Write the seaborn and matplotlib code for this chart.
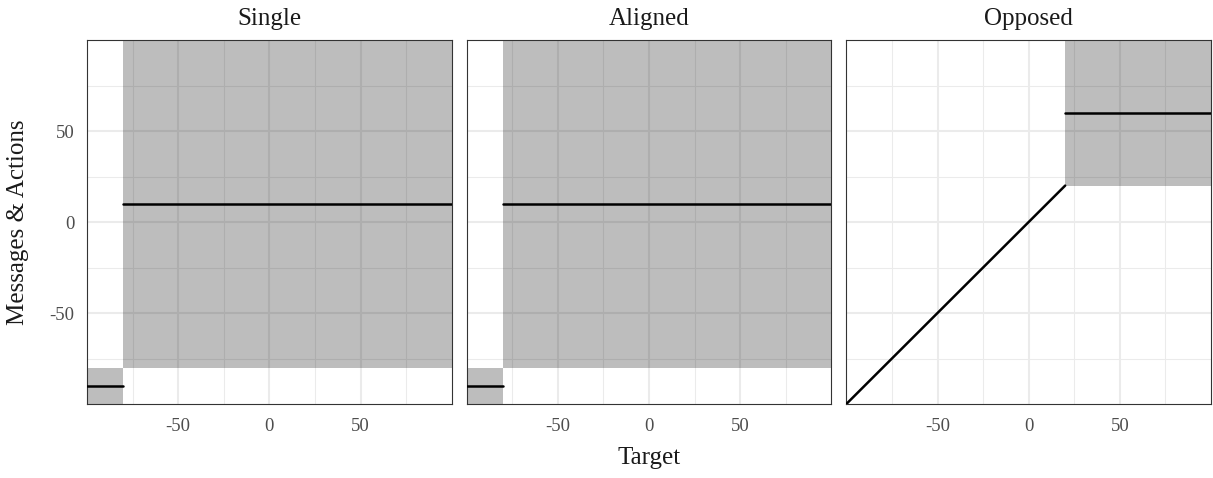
import numpy as np
import pandas as pd
import seaborn as sns
import matplotlib.pyplot as plt
from matplotlib.ticker import FixedLocator

# Facets and the shaded regions (xmin, xmax, ymin, ymax) in each
facets = ["Single", "Aligned", "Opposed"]
rect_facet = ["Single", "Single", "Aligned", "Aligned", "Opposed"]
rect_xmin = [-100, -80, -100, -80, 20]
rect_xmax = [-80, 100, -80, 100, 100]
rect_ymin = [-100, -80, -100, -80, 20]
rect_ymax = [-80, 100, -80, 100, 100]

# Line segments: facet, x points, y points
seg_facet = ["Single", "Single", "Aligned", "Aligned", "Opposed", "Opposed"]
seg_x = [[-100, -80], [-80, 100], [-100, -80], [-80, 100], [-100, 20], [20, 100]]
seg_y = [[-90, -90], [10, 10], [-90, -90], [10, 10], [-100, 20], [60, 60]]

major_ticks = [-50, 0, 50]
minor_ticks = [-75, -25, 25, 75]

# Build a long table of line points
rows = []
for i, (f, xs, ys) in enumerate(zip(seg_facet, seg_x, seg_y)):
    for x, y in zip(xs, ys):
        rows.append({"facet": f, "seg": i, "x": x, "y": y})
lines = pd.DataFrame(rows)

sns.set_theme(style="white")
plt.rcParams['font.family'] = ['Liberation Serif', 'DejaVu Serif']
plt.rcParams['axes.unicode_minus'] = False

fig, axes = plt.subplots(1, 3, figsize=(12.13, 4.78), dpi=100, sharey=True)
plt.subplots_adjust(left=0.0717, right=0.9984, top=0.9163, bottom=0.1548, wspace=0.041)

for ax, facet in zip(axes, facets):
    ax.set_xlim(-100, 100)
    ax.set_ylim(-100, 100)
    ax.xaxis.set_major_locator(FixedLocator(major_ticks))
    ax.yaxis.set_major_locator(FixedLocator(major_ticks))
    ax.xaxis.set_minor_locator(FixedLocator(minor_ticks))
    ax.yaxis.set_minor_locator(FixedLocator(minor_ticks))
    ax.set_axisbelow(True)
    ax.grid(which="major", color="#ebebeb", linewidth=1.5)
    ax.grid(which="minor", color="#ebebeb", linewidth=0.75)
    ax.tick_params(which="both", length=0, labelsize=13.5, labelcolor="#4d4d4d")
    ax.tick_params(axis="x", pad=10)
    ax.tick_params(axis="y", pad=9)

    # shaded regions (semi-transparent so the grid shows through)
    for f, x0, x1, y0, y1 in zip(rect_facet, rect_xmin, rect_xmax, rect_ymin, rect_ymax):
        if f == facet:
            ax.fill_between([x0, x1], y0, y1, color="black", alpha=0.26, linewidth=0, zorder=2)

    sub = lines[lines["facet"] == facet]
    sns.lineplot(data=sub, x="x", y="y", units="seg", estimator=None,
                 color="black", linewidth=1.8, ax=ax, zorder=3)

    ax.set_xlabel("")
    ax.set_ylabel("")
    ax.set_title(facet, fontsize=18, color="#1a1a1a", pad=11)
    for s in ax.spines.values():
        s.set_visible(True)
        s.set_color("#333333")
        s.set_linewidth(0.8)

fig.text(0.535, 1 - 458 / 478, "Target", ha="center", va="center", fontsize=18, color="#1a1a1a")
fig.text(18 / 1213, 1 - 222 / 478, "Messages & Actions", ha="center", va="center",
         rotation=90, fontsize=18, color="#1a1a1a")

plt.savefig("out.png", dpi=100)
